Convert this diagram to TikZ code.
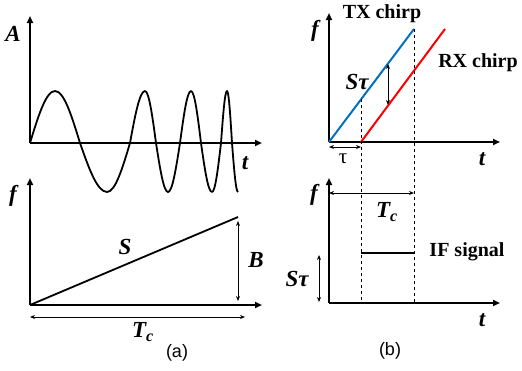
\documentclass[tikz,border=0pt]{standalone}
\usepackage{fontspec}
\setmainfont{Liberation Serif}
\newfontfamily\sansf{Liberation Sans}
\usetikzlibrary{arrows.meta}
\definecolor{txblue}{RGB}{0,112,192}
\definecolor{rxred}{RGB}{255,0,0}
\begin{document}
\begin{tikzpicture}[x=1pt,y=-1pt,
  axis/.style={line width=1.8pt,-{Triangle[length=7pt,width=6pt]}},
  dim/.style={line width=0.8pt,{Stealth[length=5pt,width=4pt]}-{Stealth[length=5pt,width=4pt]}},
  guide/.style={dashed,line width=0.7pt},
  curve/.style={line width=1.8pt,line join=round},
  lab/.style={font=\fontsize{23}{25}\selectfont\bfseries\itshape,inner sep=0pt},
  txt/.style={font=\fontsize{20}{22}\selectfont\bfseries,inner sep=0pt},
  captxt/.style={font=\sansf\fontsize{18}{20}\selectfont,inner sep=0pt}]
\useasboundingbox (0,0) rectangle (522,370);

% ---------- panel (a), top ----------
\coordinate (a1o) at (30,143);
\coordinate (a1y) at (30,16);
\coordinate (a1x) at (262,143);
\draw[axis] (a1o) -- (a1y);
\draw[axis] (a1o) -- (a1x);
\node[lab] (lA) at (13,34) {A};
\node[lab] (lt1) at (245,163) {t};
\draw[curve] (a1o) sin (55,91) cos (80,143) sin (107,192) cos (130,143)
  sin (145,91) cos (156,143) sin (168,192) cos (180,143)
  sin (191,91) cos (201,143) sin (212,192) cos (221,143)
  sin (227,91) cos (232,143) sin (238,192);

% ---------- panel (a), bottom ----------
\coordinate (a2o) at (30,305);
\coordinate (a2y) at (30,178);
\coordinate (a2x) at (262,305);
\coordinate (a2e) at (238,217);
\draw[axis] (a2o) -- (a2y);
\draw[axis] (a2o) -- (a2x);
\node[lab] (lf1) at (13,196) {f};
\draw[curve] (a2o) -- (a2e);
\node[lab] (lS) at (125,247) {S};
\coordinate (Bt) at (238,221);
\coordinate (Bb) at (238,301);
\draw[dim] (Bt) -- (Bb);
\node[lab] (lB) at (256,260) {B};
\coordinate (Tl) at (30,317);
\coordinate (Tr) at (245,317);
\draw[dim] (Tl) -- (Tr);
\node[lab] (lTc1) at (143,332) {T\textsubscript{c}};
\node[captxt] (capa) at (177,353) {(a)};

% ---------- panel (b), top ----------
\coordinate (b1o) at (329,142);
\coordinate (b1y) at (329,13);
\coordinate (b1x) at (500,142);
\draw[axis] (b1o) -- (b1y);
\draw[axis] (b1o) -- (b1x);
\node[lab] (lf2) at (315,31) {f};
\node[lab] (lt2) at (482,159) {t};
\coordinate (txe) at (414,29);
\coordinate (rxs) at (361,142);
\coordinate (rxe) at (445,29);
\draw[line width=2pt,txblue] (b1o) -- (txe);
\draw[line width=2pt,rxred] (rxs) -- (rxe);
\node[txt] (ltx) at (382,14) {TX chirp};
\node[txt] (lrx) at (478,63) {RX chirp};
\node[lab] (lSt1) at (357,82) {Sτ};
\coordinate (st1) at (388,64);
\coordinate (st2) at (388,105);
\draw[dim] (st1) -- (st2);
\coordinate (d1t) at (361,99);
\coordinate (d1b) at (361,303);
\coordinate (d2b) at (414,303);
\draw[guide] (d1t) -- (d1b);
\draw[guide] (txe) -- (d2b);
\coordinate (tau1) at (329,147);
\coordinate (tau2) at (361,147);
\draw[dim] (tau1) -- (tau2);
\node[font=\fontsize{21}{23}\selectfont,inner sep=0pt] (ltau) at (343,159) {τ};

% ---------- panel (b), bottom ----------
\coordinate (b2o) at (329,303);
\coordinate (b2y) at (329,178);
\coordinate (b2x) at (500,303);
\draw[axis] (b2o) -- (b2y);
\draw[axis] (b2o) -- (b2x);
\node[lab] (lf3) at (314,195) {f};
\node[lab] (lt3) at (482,320) {t};
\coordinate (Tc2l) at (329,193);
\coordinate (Tc2r) at (414,193);
\draw[dim] (Tc2l) -- (Tc2r);
\node[lab] (lTc2) at (387,212) {T\textsubscript{c}};
\coordinate (ifl) at (361,253);
\coordinate (ifr) at (414,253);
\draw[curve] (ifl) -- (ifr);
\node[txt] (lif) at (467,252) {IF signal};
\coordinate (sb1) at (319,255);
\coordinate (sb2) at (319,302);
\draw[dim] (sb1) -- (sb2);
\node[lab] (lSt2) at (297,279) {Sτ};
\node[captxt] (capb) at (390,351) {(b)};
\end{tikzpicture}
\end{document}
